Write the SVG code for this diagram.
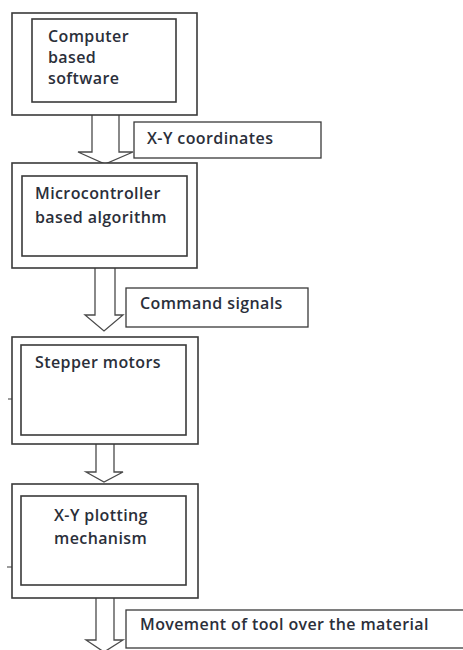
<svg xmlns="http://www.w3.org/2000/svg" width="463" height="650" viewBox="0 0 463 650">
<style>
.o{fill:#fff;stroke:#3a3a3a;stroke-width:1.6}
.i{fill:#fff;stroke:#3a3a3a;stroke-width:1.6}
.a{fill:#fff;stroke:#4a4a4a;stroke-width:1.3;stroke-linejoin:miter}
.l{fill:#fff;stroke:#3a3a3a;stroke-width:1.3}
text{font-family:"Open Sans","Liberation Sans",sans-serif;font-size:16px;font-weight:600;letter-spacing:0.4px;fill:#2b2f3a}
</style>
<rect width="463" height="650" fill="#fff"/>
<g id="connectors">
<path class="a" d="M92,115 V152 H78 L105,164 L133,152 H119 V115"/>
<path class="a" d="M95,268 V315 H85 L104,331 L123,315 H115 V268"/>
<path class="a" d="M96,444 V472 H86 L104,482 L123,472 H114 V444"/>
<path class="a" d="M96,598 V640 H86 L104,652 L123,640 H114 V598"/>
<path d="M8,399 H12 M7,567 H12" stroke="#3a3a3a" stroke-width="1.2"/>
</g>
<g id="n1">
<rect class="o" x="12" y="13" width="185" height="102"/>
<rect class="i" x="32" y="19" width="144" height="83"/>
<text x="48" y="42">Computer</text>
<text x="48" y="63">based</text>
<text x="48" y="84">software</text>
</g>
<g id="l1">
<rect class="l" x="134" y="122" width="187" height="36"/>
<text x="147" y="144">X-Y coordinates</text>
</g>
<g id="n2">
<rect class="o" x="12" y="163" width="185" height="105"/>
<rect class="i" x="22" y="176" width="165" height="80"/>
<text x="35" y="199">Microcontroller</text>
<text x="35" y="223">based algorithm</text>
</g>
<g id="l2">
<rect class="l" x="126" y="288" width="182" height="39"/>
<text x="140" y="309">Command signals</text>
</g>
<g id="n3">
<rect class="o" x="12" y="337" width="186" height="107"/>
<rect class="i" x="21" y="345" width="165" height="90"/>
<text x="35" y="368">Stepper motors</text>
</g>
<g id="n4">
<rect class="o" x="12" y="484" width="186" height="114"/>
<rect class="i" x="21" y="496" width="165" height="89"/>
<text x="54" y="521">X-Y plotting</text>
<text x="54" y="544">mechanism</text>
</g>
<g id="l4">
<rect class="l" x="126" y="610" width="345" height="38"/>
<text x="140" y="630">Movement of tool over the material</text>
</g>
</svg>
